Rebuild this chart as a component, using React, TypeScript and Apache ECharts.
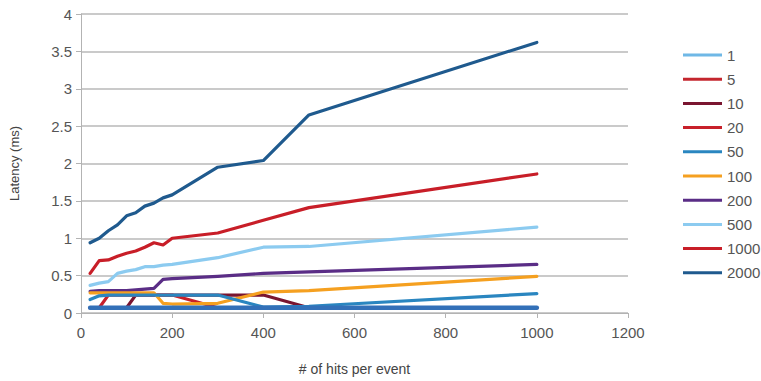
import React, { useEffect, useRef } from "react";
import * as echarts from "echarts";

const xs = [20, 40, 60, 80, 100, 120, 140, 160, 180, 200, 300, 400, 500, 1000];

const s1 = [0.07, 0.07, 0.07, 0.07, 0.07, 0.07, 0.07, 0.07, 0.07, 0.07, 0.07, 0.07, 0.07, 0.07];
const s5 = [0.07, 0.07, 0.07, 0.07, 0.07, 0.07, 0.07, 0.07, 0.07, 0.07, 0.07, 0.07, 0.07, 0.07];
const s10 = [0.07, 0.07, 0.07, 0.07, 0.07, 0.24, 0.24, 0.24, 0.24, 0.24, 0.24, 0.24, 0.07, 0.07];
const s20 = [0.07, 0.07, 0.24, 0.24, 0.24, 0.24, 0.24, 0.24, 0.24, 0.24, 0.07, 0.07, 0.07, 0.07];
const s50 = [0.18, 0.23, 0.24, 0.24, 0.24, 0.24, 0.24, 0.24, 0.24, 0.24, 0.24, 0.08, 0.09, 0.26];
const s100 = [0.27, 0.27, 0.27, 0.27, 0.27, 0.27, 0.27, 0.27, 0.13, 0.12, 0.13, 0.28, 0.3, 0.49];
const s200 = [0.29, 0.3, 0.3, 0.3, 0.3, 0.31, 0.32, 0.33, 0.45, 0.46, 0.49, 0.53, 0.55, 0.65];
const s500 = [0.37, 0.4, 0.42, 0.53, 0.56, 0.58, 0.62, 0.62, 0.64, 0.65, 0.74, 0.88, 0.89, 1.15];
const s1000 = [0.53, 0.7, 0.71, 0.76, 0.8, 0.83, 0.88, 0.94, 0.91, 1.0, 1.07, 1.24, 1.41, 1.86];
const s2000 = [0.94, 1.0, 1.1, 1.18, 1.3, 1.34, 1.43, 1.47, 1.54, 1.58, 1.95, 2.04, 2.65, 3.62];

const seriesNames = ["1", "5", "10", "20", "50", "100", "200", "500", "1000", "2000"];
const seriesValues = [s1, s5, s10, s20, s50, s100, s200, s500, s1000, s2000];
const legendColors = ["#6fb8e6", "#c4262e", "#7a1530", "#c8202a", "#2a86c0", "#f5a020", "#5a2d86", "#8ccbf0", "#c81e28", "#1f5a8e"];
const lineColors = ["#3370b8", "#c4262e", "#7a1530", "#c8202a", "#2a86c0", "#f5a020", "#5a2d86", "#8ccbf0", "#c81e28", "#1f5a8e"];
// draw order (later on top)
const drawOrder = [1, 2, 3, 9, 8, 7, 6, 5, 4, 0];

const FONT = "'Liberation Sans', Arial, sans-serif";

export default function App() {
  const ref = useRef<HTMLDivElement>(null);
  useEffect(() => {
    if (!ref.current) return;
    const chart = echarts.init(ref.current, undefined, { renderer: "svg" });
    const series = drawOrder.map((i) => ({
      name: seriesNames[i],
      type: "line",
      showSymbol: false,
      symbol: "none",
      color: legendColors[i],
      lineStyle: { color: lineColors[i], width: i === 0 ? 4.5 : 3.2, cap: "round", join: "round" },
      data: xs.map((x, k) => [x, seriesValues[i][k]]),
    }));
    chart.setOption({
      animation: false,
      backgroundColor: "#ffffff",
      grid: { left: 78, right: 133, top: 14, bottom: 61, containLabel: false },
      legend: {
        orient: "vertical",
        left: 678,
        top: 42,
        icon: "rect",
        itemWidth: 39,
        itemHeight: 3,
        itemGap: 8.2,
        textStyle: { fontFamily: FONT, fontSize: 15, color: "#555", lineHeight: 16 },
        data: seriesNames.map((n, i) => ({ name: n, itemStyle: { color: legendColors[i] } })),
      },
      xAxis: {
        type: "value",
        min: 0,
        max: 1200,
        interval: 200,
        name: "# of hits per event",
        nameLocation: "middle",
        nameGap: 49,
        nameTextStyle: { fontFamily: FONT, fontSize: 14, color: "#444" },
        axisLine: { show: true, lineStyle: { color: "#b3b3b3", width: 1 } },
        axisTick: { show: true, length: 5, lineStyle: { color: "#b3b3b3" } },
        axisLabel: { fontFamily: FONT, fontSize: 15, color: "#555", margin: 12, formatter: (v: number) => String(v) },
        splitLine: { show: false },
      },
      yAxis: {
        type: "value",
        min: 0,
        max: 4,
        interval: 0.5,
        name: "Latency (ms)",
        nameLocation: "middle",
        nameGap: 60,
        nameRotate: 90,
        nameTextStyle: { fontFamily: FONT, fontSize: 13, color: "#444" },
        axisLine: { show: true, lineStyle: { color: "#b3b3b3", width: 1 } },
        axisTick: { show: true, length: 5, lineStyle: { color: "#b3b3b3" } },
        axisLabel: { fontFamily: FONT, fontSize: 15, color: "#555", margin: 9, formatter: (v: number) => String(v) },
        splitLine: { show: true, lineStyle: { color: "#b8b8b8", width: 1.5 } },
      },
      series,
    });
    return () => chart.dispose();
  }, []);
  return (
    <div
      ref={ref}
      style={{ position: "fixed", left: 0, top: 0, width: 761, height: 381 }}
    />
  );
}
